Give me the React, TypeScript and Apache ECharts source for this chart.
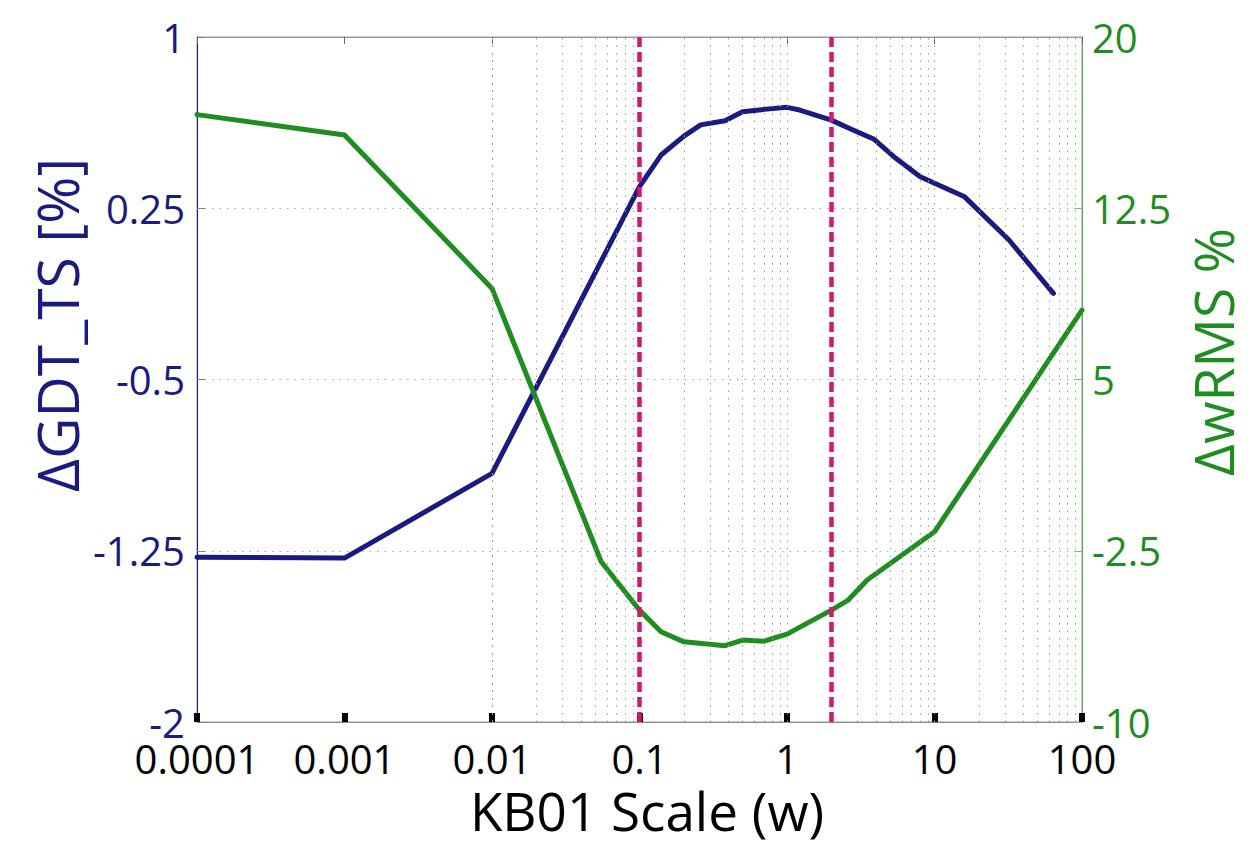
import React, { useEffect, useRef } from 'react';
import * as echarts from 'echarts';

// ---- data ----
const xTickLabels = ['0.0001', '0.001', '0.01', '0.1', '1', '10', '100'];

const gdtX = [0.0001, 0.001, 0.01, 0.1, 0.14, 0.2, 0.26, 0.38, 0.5, 0.7, 1, 1.22, 2, 2.8, 3.9, 5.3, 8, 16, 32, 64];
const gdtY = [-1.278, -1.282, -0.911, 0.345, 0.483, 0.566, 0.615, 0.633, 0.673, 0.683, 0.692, 0.68, 0.636, 0.593, 0.552, 0.476, 0.388, 0.3, 0.111, -0.123];

const wrmsX = [0.0001, 0.001, 0.01, 0.055, 0.1, 0.14, 0.2, 0.38, 0.5, 0.7, 1, 2, 2.6, 3.5, 10, 100];
const wrmsY = [16.6, 15.71, 8.99, -2.98, -5.1, -6.05, -6.49, -6.66, -6.41, -6.46, -6.15, -5.1, -4.66, -3.78, -1.67, 8.04];

const markerX = [0.1, 2];

const xTitle = 'KB01 Scale (w)';
const leftTitle = 'ΔGDT_TS [%]';
const rightTitle = 'ΔwRMS %';

const BLUE = '#1a1a80';
const GREEN = '#1f8d1f';
const MAGENTA = '#d6166f';
const FONT = 'Open Sans';

export default function App() {
  const ref = useRef<HTMLDivElement>(null);

  useEffect(() => {
    const chart = echarts.init(ref.current!, null, { renderer: 'svg' });

    const gridValues: number[] = [];
    for (let e = -4; e <= 1; e++) {
      for (let k = 1; k <= 9; k++) {
        if (e === -4 && k === 1) continue;
        gridValues.push(k * Math.pow(10, e));
      }
    }

    const option: any = {
      animation: false,
      backgroundColor: '#ffffff',
      grid: {
        left: 197,
        right: 166,
        top: 37,
        bottom: 123,
        show: true,
        borderColor: '#9a9a9a',
        borderWidth: 1,
        backgroundColor: 'transparent',
      },
      xAxis: [
        {
          type: 'log',
          logBase: 10,
          min: 0.0001,
          max: 100,
          splitNumber: 6,
          position: 'bottom',
          axisLine: { show: true, onZero: false, lineStyle: { color: '#8c8c8c', width: 1 } },
          axisTick: { show: true, inside: true, length: 9, lineStyle: { color: '#000', width: 6 } },
          axisLabel: {
            show: true,
            margin: 19,
            fontSize: 40,
            lineHeight: 34,
            fontFamily: FONT,
            color: '#000',
            showMinLabel: true,
            showMaxLabel: true,
            formatter: (v: number) => xTickLabels[Math.round(Math.log10(v)) + 4],
          },
          splitLine: { show: false },
        },
        {
          type: 'log',
          logBase: 10,
          min: 0.0001,
          max: 100,
          splitNumber: 6,
          position: 'top',
          axisLine: { show: true, onZero: false, lineStyle: { color: '#9a9a9a', width: 1 } },
          axisTick: { show: true, inside: true, length: 7, lineStyle: { color: '#666', width: 1 } },
          axisLabel: { show: false },
          splitLine: { show: false },
        },
      ],
      yAxis: [
        {
          type: 'value',
          min: -2,
          max: 1,
          interval: 0.75,
          position: 'left',
          axisLine: { show: true, lineStyle: { color: BLUE, width: 1 } },
          axisTick: { show: true, inside: true, length: 8, lineStyle: { color: '#8080b0', width: 1 } },
          axisLabel: { margin: 12, fontSize: 40, lineHeight: 34, fontFamily: FONT, color: BLUE },
          splitLine: { show: true, lineStyle: { type: [1.5, 6], color: '#a8a8a8', width: 1 } },
        },
        {
          type: 'value',
          min: -10,
          max: 20,
          interval: 7.5,
          position: 'right',
          axisLine: { show: true, lineStyle: { color: '#5aa85a', width: 1 } },
          axisTick: { show: true, inside: true, length: 8, lineStyle: { color: '#80b880', width: 1 } },
          axisLabel: { margin: 10, fontSize: 40, lineHeight: 34, fontFamily: FONT, color: GREEN },
          splitLine: { show: false },
        },
      ],
      series: [
        {
          type: 'line',
          name: 'grid',
          data: [],
          xAxisIndex: 0,
          yAxisIndex: 0,
          z: 1,
          silent: true,
          markLine: {
            silent: true,
            animation: false,
            symbol: ['none', 'none'],
            label: { show: false },
            lineStyle: { type: [1.5, 6], color: '#9c9c9c', width: 1 },
            emphasis: { disabled: true },
            data: gridValues.map((v) => ({ xAxis: v })),
          },
        },
        {
          type: 'line',
          name: 'markers',
          data: [],
          xAxisIndex: 0,
          yAxisIndex: 0,
          z: 2,
          silent: true,
          markLine: {
            silent: true,
            animation: false,
            symbol: ['none', 'none'],
            label: { show: false },
            lineStyle: { type: [10, 5], color: MAGENTA, width: 4.5 },
            emphasis: { disabled: true },
            data: markerX.map((v) => ({ xAxis: v })),
          },
        },
        {
          type: 'line',
          name: 'ΔGDT_TS',
          data: gdtX.map((x, i) => [x, gdtY[i]]),
          xAxisIndex: 0,
          yAxisIndex: 0,
          showSymbol: false,
          symbol: 'none',
          z: 3,
          lineStyle: { color: BLUE, width: 5, cap: 'round', join: 'round' },
        },
        {
          type: 'line',
          name: 'ΔwRMS',
          data: wrmsX.map((x, i) => [x, wrmsY[i]]),
          xAxisIndex: 0,
          yAxisIndex: 1,
          showSymbol: false,
          symbol: 'none',
          z: 3,
          lineStyle: { color: GREEN, width: 5, cap: 'round', join: 'round' },
        },
      ],
      graphic: [
        {
          type: 'text',
          x: 647,
          y: 810,
          silent: true,
          style: { text: xTitle, fontSize: 53, lineHeight: 46, fontFamily: FONT, fill: '#000', align: 'center', verticalAlign: 'middle' },
        },
        {
          type: 'text',
          x: 57,
          y: 325,
          rotation: Math.PI / 2,
          silent: true,
          style: { text: leftTitle, fontSize: 57, lineHeight: 50, fontFamily: FONT, fill: BLUE, align: 'center', verticalAlign: 'middle' },
        },
        {
          type: 'text',
          x: 1212,
          y: 352,
          rotation: Math.PI / 2,
          silent: true,
          style: { text: rightTitle, fontSize: 55, lineHeight: 48, fontFamily: FONT, fill: GREEN, align: 'center', verticalAlign: 'middle' },
        },
      ],
    };

    chart.setOption(option);
    return () => chart.dispose();
  }, []);

  return (
    <div
      ref={ref}
      style={{ position: 'fixed', left: 0, top: 0, width: 1248, height: 845, background: '#fff' }}
    />
  );
}
